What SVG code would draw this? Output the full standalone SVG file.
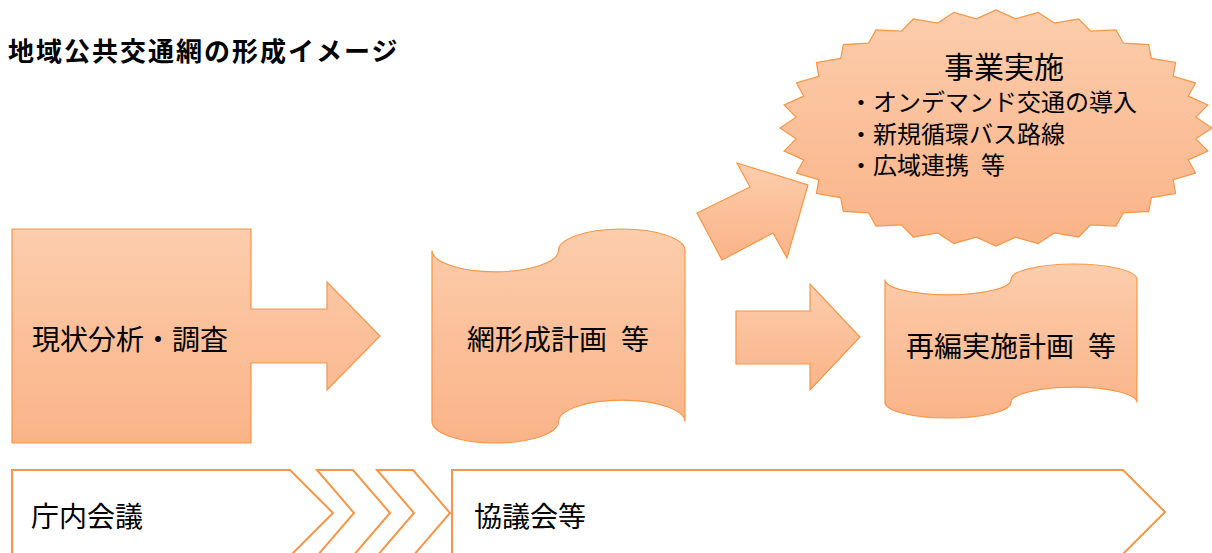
<svg xmlns="http://www.w3.org/2000/svg" width="1212" height="553" viewBox="0 0 1212 553">
  <style>
    .shape { fill: url(#og); stroke: #F79646; stroke-width: 1.2; stroke-linejoin: miter; }
    .phase { fill: #FFFFFF; stroke: #F79646; stroke-width: 2; }
    .t { font-family: "Noto Sans CJK JP", "Noto Sans", sans-serif; fill: #000000; }
    .big { font-size: 28px; }
    .mid { font-size: 24px; }
    .title { font-size: 26px; font-weight: bold; letter-spacing: 2px; }
  </style>
  <defs>
    <linearGradient id="og" x1="0" y1="0" x2="0" y2="1">
      <stop offset="0" stop-color="#FCCDAC"/>
      <stop offset="1" stop-color="#FAB388"/>
    </linearGradient>
  </defs>

  <rect width="1212" height="553" fill="#FFFFFF"/>

  <g id="title">
    <text class="t title" x="8" y="61">地域公共交通網の形成イメージ</text>
  </g>

  <g id="node-survey">
    <polygon class="shape" points="12,229 251,229 251,309 327,309 327,282 380,336 327,390 327,363 251,363 251,443 12,443"/>
    <text class="t big" x="32" y="350">現状分析・調査</text>
  </g>

  <g id="node-network-plan">
    <path class="shape" d="M432,250.4 A63.25,21.4 0 0 0 558.5,250.4 A63.25,21.4 0 0 1 685,250.4 L685,421.6 A63.25,21.4 0 0 0 558.5,421.6 A63.25,21.4 0 0 1 432,421.6 Z"/>
    <text class="t big" x="558" y="350" text-anchor="middle">網形成計画<tspan dx="14">等</tspan></text>
  </g>

  <g id="node-reorg-plan">
    <path class="shape" d="M885,279.4 A63,15.4 0 0 0 1011,279.4 A63,15.4 0 0 1 1137,279.4 L1137,402.6 A63,15.4 0 0 0 1011,402.6 A63,15.4 0 0 1 885,402.6 Z"/>
    <text class="t big" x="1011" y="357" text-anchor="middle">再編実施計画<tspan dx="14">等</tspan></text>
  </g>

  <g id="node-implementation">
    <polygon class="shape" points="1212,128 1195.9,117.2 1207.9,105 1188.2,96.1 1195.6,82.8 1173.2,76.3 1175.6,62.4 1151.3,58.4 1148.7,44.6 1123.4,43.2 1116,29.9 1090.7,31.2 1078.7,19 1054.3,23 1038.1,12.3 1015.7,18.8 996,10 976.3,18.8 953.9,12.3 937.7,23 913.3,19 901.3,31.2 876,29.9 868.6,43.2 843.3,44.6 840.7,58.4 816.4,62.4 818.8,76.3 796.4,82.8 803.8,96.1 784.1,105 796.1,117.2 780,128 796.1,138.8 784.1,151 803.8,159.9 796.4,173.2 818.8,179.7 816.4,193.6 840.7,197.6 843.3,211.4 868.6,212.8 876,226.1 901.3,224.8 913.3,237 937.7,233 953.9,243.7 976.3,237.2 996,246 1015.7,237.2 1038.1,243.7 1054.3,233 1078.7,237 1090.7,224.8 1116,226.1 1123.4,212.8 1148.7,211.4 1151.3,197.6 1175.6,193.6 1173.2,179.7 1195.6,173.2 1188.2,159.9 1207.9,151 1195.9,138.8"/>
    <text class="t" x="1004" y="78" text-anchor="middle" font-size="30">事業実施</text>
    <text class="t mid" x="849" y="111">・オンデマンド交通の導入</text>
    <text class="t mid" x="849" y="142.5">・新規循環バス路線</text>
    <text class="t mid" x="849" y="174">・広域連携<tspan dx="12">等</tspan></text>
  </g>

  <g id="connectors">
    <polygon class="shape" points="737,163 808,185 787,258 773,233 722,260 697,213 750,187"/>
    <polygon class="shape" points="736,311 810,311 810,284 860,337 810,390 810,364 736,364"/>
  </g>

  <g id="phase-internal">
    <polygon class="phase" points="12,470 290,470 333,513 290,556 12,556"/>
    <text class="t big" x="31" y="527">庁内会議</text>
  </g>
  <g id="phase-chevrons">
    <polygon class="phase" points="317,470 353,470 390,513 353,556 317,556 354,513"/>
    <polygon class="phase" points="377,470 413,470 450,513 413,556 377,556 414,513"/>
  </g>
  <g id="phase-council">
    <polygon class="phase" points="452,470 1123,470 1165,512 1123,554 452,554"/>
    <text class="t big" x="474" y="527">協議会等</text>
  </g>
</svg>
